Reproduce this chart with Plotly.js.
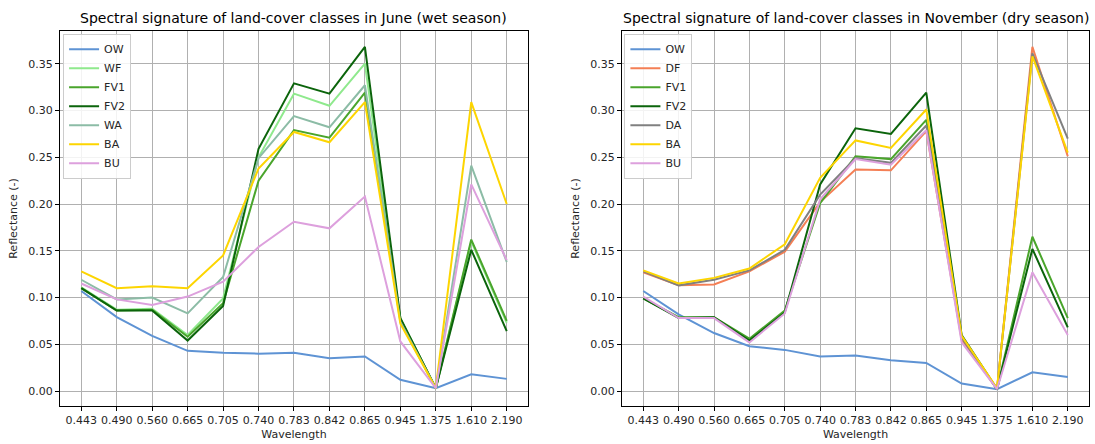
<!DOCTYPE html>
<html>
<head>
<meta charset="utf-8">
<script src="https://cdn.plot.ly/plotly-3.0.1.min.js"></script>
<style>html,body{margin:0;padding:0;background:#fff;}#chart{width:1095px;height:444px;}</style>
</head>
<body>
<div id="chart"></div>
<script>
// Categories (wavelength, µm)
var wavelengths = ["0.443","0.490","0.560","0.665","0.705","0.740","0.783","0.842","0.865","0.945","1.375","1.610","2.190"];

// June (wet season)
var juneOW  = [0.107, 0.079, 0.059, 0.043, 0.041, 0.040, 0.041, 0.035, 0.037, 0.012, 0.003, 0.018, 0.013];
var juneWF  = [0.111, 0.087, 0.088, 0.060, 0.099, 0.250, 0.318, 0.305, 0.350, 0.075, 0.003, 0.160, 0.073];
var juneFV1 = [0.110, 0.086, 0.087, 0.058, 0.094, 0.225, 0.279, 0.271, 0.319, 0.078, 0.003, 0.162, 0.075];
var juneFV2 = [0.110, 0.086, 0.086, 0.054, 0.091, 0.259, 0.329, 0.318, 0.368, 0.078, 0.003, 0.151, 0.064];
var juneWA  = [0.119, 0.098, 0.100, 0.083, 0.122, 0.249, 0.294, 0.282, 0.327, 0.074, 0.003, 0.241, 0.138];
var juneBA  = [0.128, 0.110, 0.112, 0.110, 0.145, 0.238, 0.277, 0.266, 0.309, 0.072, 0.003, 0.309, 0.200];
var juneBU  = [0.115, 0.098, 0.092, 0.101, 0.117, 0.154, 0.181, 0.174, 0.208, 0.053, 0.003, 0.221, 0.140];

// November (dry season)
var novOW  = [0.107, 0.082, 0.062, 0.048, 0.044, 0.037, 0.038, 0.033, 0.030, 0.008, 0.002, 0.020, 0.015];
var novDF  = [0.127, 0.113, 0.114, 0.128, 0.149, 0.202, 0.237, 0.236, 0.278, 0.055, 0.002, 0.368, 0.251];
var novFV1 = [0.099, 0.079, 0.079, 0.056, 0.086, 0.201, 0.251, 0.248, 0.290, 0.058, 0.002, 0.165, 0.078];
var novFV2 = [0.099, 0.078, 0.079, 0.054, 0.084, 0.221, 0.281, 0.275, 0.319, 0.060, 0.002, 0.152, 0.068];
var novDA  = [0.128, 0.113, 0.119, 0.129, 0.151, 0.210, 0.249, 0.244, 0.284, 0.057, 0.002, 0.361, 0.270];
var novBA  = [0.129, 0.115, 0.121, 0.131, 0.157, 0.228, 0.268, 0.260, 0.301, 0.059, 0.003, 0.358, 0.255];
var novBU  = [0.101, 0.078, 0.078, 0.052, 0.083, 0.205, 0.248, 0.242, 0.279, 0.052, 0.002, 0.127, 0.060];

var colors = {OW:"#5e93d4", WF:"#8fe98d", FV1:"#4aa52c", FV2:"#0b640b", WA:"#8cbca6", BA:"#fdd500", BU:"#dda0dd", DF:"#f47f55", DA:"#808080"};

function tr(name, y, xa, ya, leg){
  return {x: wavelengths, y: y, name: name, type:"scatter", mode:"lines",
    line:{color: colors[name], width: 2}, xaxis: xa, yaxis: ya, legend: leg};
}

var data = [
  tr("OW", juneOW, "x", "y", "legend"),
  tr("WF", juneWF, "x", "y", "legend"),
  tr("FV1", juneFV1, "x", "y", "legend"),
  tr("FV2", juneFV2, "x", "y", "legend"),
  tr("WA", juneWA, "x", "y", "legend"),
  tr("BA", juneBA, "x", "y", "legend"),
  tr("BU", juneBU, "x", "y", "legend"),
  tr("OW", novOW, "x2", "y2", "legend2"),
  tr("DF", novDF, "x2", "y2", "legend2"),
  tr("FV1", novFV1, "x2", "y2", "legend2"),
  tr("FV2", novFV2, "x2", "y2", "legend2"),
  tr("DA", novDA, "x2", "y2", "legend2"),
  tr("BA", novBA, "x2", "y2", "legend2"),
  tr("BU", novBU, "x2", "y2", "legend2")
];

var font = {family:"DejaVu Sans", size:11, color:"#262626"};
function xax(dom){
  return {domain: dom, type:"category", range:[-0.6, 12.6], showgrid:true, gridcolor:"#b0b0b0", gridwidth:1,
    showline:true, mirror:true, linecolor:"#000", linewidth:1, ticks:"outside", ticklen:4, tickcolor:"#000",
    tickfont:{family:"DejaVu Sans", size:11, color:"#262626"}, zeroline:false,
    title:{text:"Wavelength", font:{family:"DejaVu Sans", size:11, color:"#262626"}, standoff:4}};
}
function yax(anchor){
  return {domain:[0,1], anchor: anchor, range:[-0.016, 0.385], tickvals:[0,0.05,0.1,0.15,0.2,0.25,0.3,0.35],
    ticktext:["0.00","0.05","0.10","0.15","0.20","0.25","0.30","0.35"],
    showgrid:true, gridcolor:"#b0b0b0", gridwidth:1, zeroline:false,
    showline:true, mirror:true, linecolor:"#000", linewidth:1, ticks:"outside", ticklen:4, tickcolor:"#000",
    tickfont:{family:"DejaVu Sans", size:11, color:"#262626"},
    title:{text:"Reflectance (-)", font:{family:"DejaVu Sans", size:11, color:"#262626"}, standoff:8}};
}
var legStyle = function(x){
  return {x:x, y:0.993, xanchor:"left", yanchor:"top", bgcolor:"rgba(255,255,255,0.85)", bordercolor:"#cccccc", borderwidth:1,
    font:{family:"DejaVu Sans", size:11, color:"#262626"}, tracegroupgap:0, itemwidth:30};
};

var layout = {
  width:1095, height:444, paper_bgcolor:"#fff", plot_bgcolor:"#fff",
  margin:{l:60, r:6, t:31, b:38},
  font: font, showlegend:true,
  xaxis: xax([0, 0.4548]), yaxis: yax("x"),
  xaxis2: xax([0.5462, 1]), yaxis2: yax("x2"),
  legend: legStyle(0.003), legend2: legStyle(0.5485),
  annotations:[
    {text:"Spectral signature of land-cover classes in June (wet season)", xref:"paper", yref:"paper", x:0.2274, y:1, yshift:13, xanchor:"center", yanchor:"middle", showarrow:false, font:{family:"DejaVu Sans", size:14, color:"#000"}},
    {text:"Spectral signature of land-cover classes in November (dry season)", xref:"paper", yref:"paper", x:0.7731, y:1, yshift:13, xanchor:"center", yanchor:"middle", showarrow:false, font:{family:"DejaVu Sans", size:14, color:"#000"}}
  ]
};

Plotly.newPlot("chart", data, layout, {displayModeBar:false, staticPlot:true});
</script>
</body>
</html>
